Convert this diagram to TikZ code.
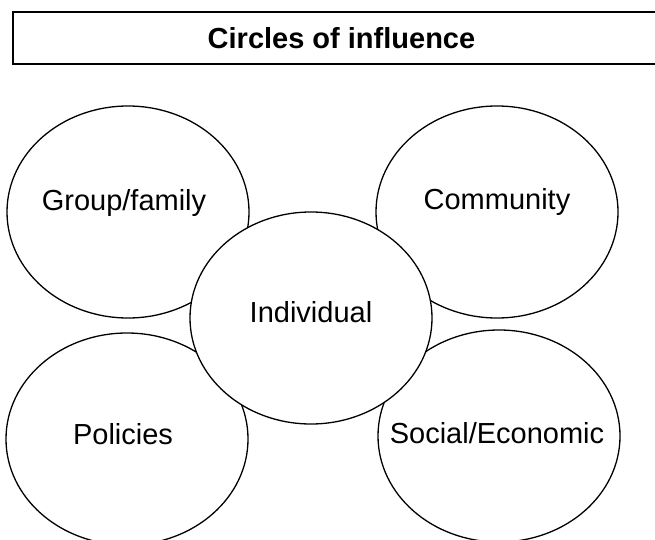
\documentclass[tikz,border=0pt]{standalone}
\usepackage{fontspec}
\setmainfont{Liberation Sans}
\usetikzlibrary{shapes.geometric}

\begin{document}
\begin{tikzpicture}[x = 1pt, y = -1pt,
    ring/.style = {ellipse, draw, line width = 1.3pt, fill = white,
                   minimum width = 242pt, minimum height = 212pt, inner sep = 0pt},
    lbl/.style = {font = \fontsize{29}{34}\selectfont, inner sep = 0pt}]
  \useasboundingbox (0,0) rectangle (655,540);
  \node (title) at (341.5,38) [draw, line width = 1.3pt, minimum width = 657pt,
    minimum height = 52pt, inner sep = 0pt, font = \fontsize{29}{34}\selectfont\bfseries]
    {Circles of influence};
  % outer circles first, the centre one goes on top
  \node (group)  at (128,212) [ring, label = {[lbl, name = grouptxt, yshift = 9pt, xshift = -4pt]center:Group/family}] {};
  \node (comm)   at (497,212) [ring, label = {[lbl, name = commtxt, yshift = 10pt]center:Community}] {};
  \node (policy) at (127,439) [ring, label = {[lbl, name = policytxt, yshift = 5pt, xshift = -4pt]center:Policies}] {};
  \node (social) at (499,436) [ring, label = {[lbl, name = socialtxt, yshift = 3pt, xshift = -2pt]center:Social/Economic}] {};
  \node (indiv)  at (311,318) [ring, label = {[lbl, name = indivtxt, yshift = 6pt]center:Individual}] {};
\end{tikzpicture}
\end{document}
